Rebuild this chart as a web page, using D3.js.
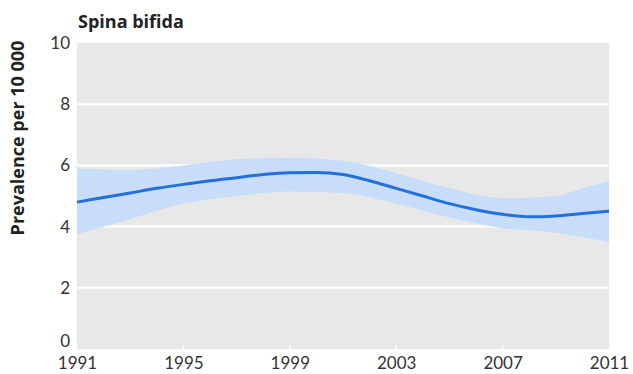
<!DOCTYPE html>
<html>
<head>
<meta charset="utf-8">
<script src="https://cdn.jsdelivr.net/npm/d3@7"></script>
<style>
  body { margin: 0; background: #fff; }
</style>
</head>
<body>
<script>
// data
const years = [1991, 1992, 1993, 1994, 1995, 1996, 1997, 1998, 1999, 2000, 2001,
               2002, 2003, 2004, 2005, 2006, 2007, 2008, 2009, 2010, 2011];
const prevalence = [4.8, 4.95, 5.1, 5.25, 5.38, 5.5, 5.6, 5.7, 5.76, 5.77, 5.7,
                    5.5, 5.25, 5.0, 4.75, 4.55, 4.4, 4.32, 4.35, 4.43, 4.5];
const bandYears = [1991, 1993, 1995, 1997, 1999, 2001, 2003, 2005, 2007, 2009, 2010, 2011];
const upper = [5.9, 5.85, 6.0, 6.2, 6.25, 6.15, 5.75, 5.25, 4.93, 5.0, 5.25, 5.48];
const lower = [3.75, 4.25, 4.75, 5.0, 5.15, 5.1, 4.75, 4.3, 3.95, 3.8, 3.66, 3.5];
const xTicks = [1991, 1995, 1999, 2003, 2007, 2011];
const yTicks = [0, 2, 4, 6, 8, 10];

const width = 633, height = 374;
const margin = {top: 43, right: 24, bottom: 25, left: 77};

const svg = d3.select("body").append("svg")
  .attr("width", width)
  .attr("height", height);

const x = d3.scaleLinear()
  .domain([1991, 2011])
  .range([margin.left, width - margin.right]);
const y = d3.scaleLinear()
  .domain([0, 10])
  .range([height - margin.bottom, margin.top]);

// background
svg.append("rect")
  .attr("x", x(1991))
  .attr("y", y(10))
  .attr("width", x(2011) - x(1991))
  .attr("height", y(0) - y(10))
  .attr("fill", "#e8e8e8");

// grid
svg.append("g")
  .selectAll("line")
  .data(yTicks.filter(d => d > 0 && d < 10))
  .join("line")
    .attr("x1", x(1991))
    .attr("x2", x(2011))
    .attr("y1", d => y(d))
    .attr("y2", d => y(d))
    .attr("stroke", "#fff")
    .attr("stroke-width", 2);

// confidence band
const band = bandYears.map((d, i) => [d, lower[i], upper[i]]);
svg.append("path")
  .datum(band)
  .attr("fill", "#c8ddf8")
  .attr("d", d3.area()
    .x(d => x(d[0]))
    .y0(d => y(d[1]))
    .y1(d => y(d[2]))
    .curve(d3.curveMonotoneX));

// line
svg.append("path")
  .datum(years.map((d, i) => [d, prevalence[i]]))
  .attr("fill", "none")
  .attr("stroke", "#2270de")
  .attr("stroke-width", 3)
  .attr("d", d3.line()
    .x(d => x(d[0]))
    .y(d => y(d[1]))
    .curve(d3.curveMonotoneX));

// axes
const font = "Lato, 'Open Sans', sans-serif";

const xAxis = g => g
  .attr("transform", `translate(0,${y(0)})`)
  .call(d3.axisBottom(x).tickValues(xTicks).tickFormat(d3.format("d")).tickSize(0).tickPadding(8))
  .call(g => g.select(".domain").remove())
  .call(g => g.selectAll("text")
    .attr("font-family", font)
    .attr("font-size", 17)
    .attr("fill", "#333"));

const yAxis = g => g
  .attr("transform", `translate(${margin.left},0)`)
  .call(d3.axisLeft(y).tickValues(yTicks).tickSize(0).tickPadding(7))
  .call(g => g.select(".domain").remove())
  .call(g => g.selectAll("text")
    .attr("font-family", font)
    .attr("font-size", 17)
    .attr("fill", "#333")
    .attr("dy", d => d === 0 ? "-0.15em" : "0.32em"));

svg.append("g").call(xAxis);
svg.append("g").call(yAxis);

// small white ticks at the bottom
svg.append("g")
  .selectAll("line")
  .data(xTicks.slice(1, -1))
  .join("line")
    .attr("x1", d => x(d))
    .attr("x2", d => x(d))
    .attr("y1", y(0))
    .attr("y2", y(0) - 4)
    .attr("stroke", "#fff")
    .attr("stroke-width", 1.5);

// title
svg.append("text")
  .attr("x", 78)
  .attr("y", 28)
  .attr("font-family", "'Open Sans', sans-serif")
  .attr("font-size", 18)
  .attr("font-weight", "bold")
  .attr("fill", "#222")
  .text("Spina bifida");

svg.append("text")
  .attr("transform", "translate(24,138) rotate(-90)")
  .attr("text-anchor", "middle")
  .attr("font-family", "'Open Sans', sans-serif")
  .attr("font-size", 18)
  .attr("font-weight", "bold")
  .attr("fill", "#222")
  .text("Prevalence per 10 000");
</script>
</body>
</html>
